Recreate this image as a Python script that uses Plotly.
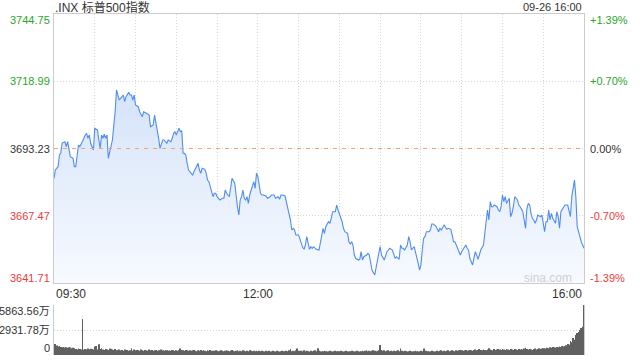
import plotly.graph_objects as go

# ---------------- data ----------------
title_text = ".INX 标普500指数"
date_text = "09-26 16:00"
watermark = "sina.com"
prev_close = 3693.23
price_ticks = [3641.71, 3667.47, 3693.23, 3718.99, 3744.75]
pct_labels = ["-1.39%", "-0.70%", "0.00%", "+0.70%", "+1.39%"]
vol_ticks = [0, 2931.78, 5863.56]
vol_labels = ["0", "2931.78万", "5863.56万"]
time_ticks = [0, 150, 390]
time_labels = ["09:30", "12:00", "16:00"]

# minutes after 09:30 and index level
minutes = [0, 1, 3, 4, 5, 6, 8, 9, 10, 11, 12, 14, 15, 16, 17, 18, 19, 21, 22, 23,
           24, 25, 26, 27, 29, 30, 32, 33, 34, 35, 36, 37, 38, 39, 40, 41, 43, 44, 45, 46,
           48, 49, 51, 52, 53, 55, 56, 57, 58, 59, 60, 62, 63, 65, 66, 68, 70, 71, 73, 74,
           75, 76, 77, 78, 80, 81,
           83, 84, 86, 87, 88, 89, 90, 92, 93, 94, 95, 96, 97, 98, 99, 101, 102, 103, 105, 106,
           107, 108, 109, 111, 112, 113, 114, 115, 116, 117, 118, 119, 120, 121, 122, 124, 125, 126, 127, 129,
           130, 131, 133, 134, 135, 136, 137, 138, 139, 140, 141, 142, 143, 144, 146, 147, 148, 149, 150, 151,
           152, 153, 154, 156, 157, 159, 160, 162,
           163, 165, 166, 167, 168, 170, 171, 172, 173, 174, 175, 176, 177, 178, 180, 181, 182, 183, 184, 185,
           186, 187, 188, 189, 190, 191, 192, 193, 195, 196, 197, 198, 199, 200, 202, 203, 204, 205, 207, 208,
           209, 210, 211, 212, 213, 214, 216, 217, 218, 219, 220, 221, 222, 224, 225, 226, 227, 228, 230, 231,
           232, 233, 234, 236, 237, 238, 239, 240, 241, 243,
           244, 245, 246, 247, 249, 250, 251, 252, 254, 255, 256, 257, 258, 260, 261, 262, 263, 265, 266, 267,
           268, 269, 270, 271, 272, 273, 274, 276, 277, 278, 279, 281, 282, 283, 284, 285, 287, 288, 289, 290,
           292, 293, 294, 295, 297, 298, 299, 300, 302, 303, 304, 305, 306, 308, 309, 310, 311, 312, 313, 314,
           316, 317, 318, 319, 320, 321, 322,
           323, 324, 326, 327, 328, 329, 330, 331, 332, 333, 334, 335, 336, 337, 338, 339, 341, 342, 343, 344,
           345, 347, 348, 349, 350, 351, 352, 353, 354, 355, 356, 358, 359, 360, 361, 362, 363, 364, 365, 366,
           367, 369, 370, 371, 372, 373, 375, 376, 377, 378, 380, 381, 382, 383, 384, 385, 386, 387, 388, 390]

prices = [3681.81, 3684.99, 3686.26, 3690.74, 3691.50, 3695.33, 3695.83, 3693.92, 3695.83, 3692.65,
          3690.09, 3689.47, 3686.26, 3686.26, 3691.39, 3694.57, 3693.92, 3695.83, 3697.13, 3698.40,
          3699.05, 3697.13, 3698.40, 3695.22, 3692.65, 3700.96, 3700.31, 3696.48, 3693.30, 3698.40,
          3697.13, 3698.67, 3697.13, 3698.40, 3689.47, 3692.00, 3696.48, 3702.23, 3707.32, 3715.64,
          3711.80, 3712.46, 3713.72, 3711.15, 3713.07, 3714.75, 3713.72, 3713.72, 3711.80, 3713.72,
          3709.89, 3709.24, 3707.32, 3705.41, 3707.32, 3706.71, 3706.06, 3701.58, 3702.23, 3706.06,
          3703.49, 3700.31, 3697.13, 3693.30, 3696.48, 3696.48,
          3695.22, 3696.48, 3695.83, 3697.13, 3699.05, 3699.66, 3698.40, 3700.96, 3699.66, 3700.05,
          3691.39, 3691.39, 3690.74, 3687.56, 3684.99, 3683.73, 3683.08, 3684.34, 3686.26, 3687.56,
          3684.99, 3683.73, 3685.64, 3685.26, 3683.73, 3681.16, 3680.51, 3678.60, 3676.07, 3674.76,
          3676.07, 3676.07, 3674.76, 3674.15, 3673.50, 3674.15, 3674.15, 3677.33, 3676.07, 3674.76,
          3679.25, 3681.81, 3679.90, 3674.15, 3670.93, 3667.75, 3673.50, 3674.76, 3677.33, 3674.15,
          3673.50, 3674.76, 3672.24, 3675.42, 3679.25, 3680.51, 3677.98, 3683.73, 3682.42, 3679.90,
          3676.07, 3675.42, 3675.42, 3675.03, 3674.15, 3674.76, 3675.42, 3675.42,
          3674.15, 3674.76, 3673.77, 3675.42, 3675.42, 3675.03, 3672.85, 3670.32, 3669.02, 3665.84,
          3662.01, 3662.66, 3662.01, 3660.09, 3660.09, 3658.83, 3656.91, 3655.38, 3654.62, 3656.26,
          3659.44, 3656.91, 3654.62, 3655.61, 3655.00, 3655.61, 3655.00, 3654.62, 3654.35, 3657.53,
          3660.09, 3662.66, 3660.74, 3663.27, 3665.19, 3664.57, 3666.49, 3669.02, 3669.02, 3671.58,
          3669.67, 3668.41, 3666.49, 3665.19, 3662.66, 3661.36, 3660.74, 3657.53, 3656.65, 3657.53,
          3656.26, 3652.43, 3651.17, 3650.52, 3650.78, 3653.70, 3650.52, 3651.78, 3652.43, 3653.08,
          3652.43, 3649.25, 3646.69, 3644.77, 3647.95, 3651.17, 3653.08, 3655.61, 3652.43, 3650.52,
          3652.43, 3653.70, 3654.35, 3655.00, 3654.35, 3653.08, 3651.17, 3651.78, 3650.78, 3656.26,
          3655.00, 3655.00, 3654.35, 3656.26, 3659.44, 3657.53, 3654.35, 3655.61, 3653.70, 3651.78,
          3649.25, 3646.69, 3648.60, 3654.35, 3658.83, 3659.44, 3661.36, 3661.36, 3662.01, 3664.31,
          3664.31, 3663.54, 3662.66, 3661.36, 3662.66, 3662.01, 3663.92, 3663.27, 3662.28, 3662.66,
          3662.28, 3660.09, 3657.53, 3657.53, 3655.00, 3653.70, 3652.43, 3653.70, 3655.61, 3656.26,
          3655.00, 3654.35, 3651.17, 3648.60, 3651.17, 3653.70, 3652.43, 3650.78, 3652.43, 3654.35,
          3656.26, 3660.74, 3665.19, 3669.67, 3665.84, 3672.85, 3670.93,
          3670.93, 3671.58, 3670.93, 3669.67, 3669.02, 3670.93, 3675.42, 3672.85, 3674.76, 3672.24,
          3673.50, 3674.15, 3667.10, 3668.41, 3670.93, 3674.76, 3673.50, 3671.58, 3670.93, 3669.67,
          3669.02, 3662.66, 3670.32, 3672.24, 3671.58, 3668.41, 3666.49, 3665.84, 3664.57, 3665.84,
          3667.75, 3667.10, 3667.75, 3664.57, 3661.36, 3665.19, 3665.19, 3669.67, 3665.84, 3668.41,
          3666.49, 3664.57, 3669.02, 3667.10, 3662.66, 3669.02, 3670.93, 3671.58, 3671.58, 3671.58,
          3667.10, 3674.76, 3677.98, 3681.16, 3674.76, 3663.27, 3661.36, 3659.44, 3657.53, 3655.04]

# per-minute volume (万)
vol_minutes = list(range(1, 391))
volumes = [
    1290, 1100, 1000, 1050, 950, 900, 950, 880, 900, 850, 920, 870, 800, 850, 780, 700, 650, 750, 700, 650,
    4220, 620, 700, 650, 750, 680, 720, 700, 640, 1000,
    1050, 650, 1250, 700, 800, 650, 600, 700, 650, 600, 750, 700, 650, 600, 700, 550, 600, 650, 550, 600,
    500, 650, 550, 600, 500, 550, 800, 500, 650, 550,
    600, 550, 500, 650, 550, 500, 600, 550, 500, 650, 550, 600, 500, 550, 600, 500, 550, 500, 650, 550,
    500, 600, 550, 500, 550, 500, 600, 550, 500, 550,
    500, 550, 750, 600, 550, 500, 600, 550, 500, 550, 500, 550, 600, 500, 450, 550, 500, 600, 500, 550,
    500, 450, 550, 500, 600, 500, 450, 500, 550, 500,
    450, 500, 550, 500, 450, 500, 550, 500, 450, 500, 600, 500, 450, 500, 550, 450, 500, 450, 550, 500,
    450, 500, 450, 550, 500, 450, 500, 450, 500, 450,
    500, 450, 500, 450, 400, 500, 450, 500, 400, 450, 500, 450, 400, 500, 450, 400, 450, 500, 450, 400,
    500, 450, 550, 700, 450, 500, 450, 550, 750, 500,
    450, 500, 450, 550, 450, 500, 450, 400, 500, 450, 500, 550, 450, 800, 500, 450, 400, 450, 500, 450,
    400, 450, 500, 450, 400, 450, 500, 450, 400, 450,
    500, 450, 400, 450, 500, 450, 400, 450, 500, 450, 400, 450, 500, 450, 400, 450, 500, 450, 500, 550,
    450, 500, 450, 500, 550, 500, 450, 500, 550, 1170,
    600, 500, 550, 450, 500, 550, 450, 500, 450, 500, 450, 500, 550, 450, 750, 500, 450, 500, 450, 400,
    450, 500, 450, 400, 450, 500, 450, 400, 450, 500,
    450, 750, 450, 500, 450, 400, 450, 500, 450, 400, 450, 500, 450, 500, 550, 450, 500, 450, 500, 550,
    450, 500, 550, 500, 450, 550, 500, 550, 600, 550,
    500, 550, 600, 500, 550, 600, 550, 500, 600, 650, 550, 600, 700, 600, 550, 650, 600, 550, 650, 800,
    650, 600, 550, 700, 600, 650, 700, 650, 600, 700,
    650, 600, 700, 650, 600, 700, 650, 600, 700, 650, 600, 700, 650, 700, 650, 750, 850, 700, 650, 700,
    650, 600, 700, 750, 650, 700, 800, 700, 750, 800,
    800, 750, 850, 800, 900, 850, 950, 900, 850, 950, 900, 1000, 950, 1050, 1000, 1050, 1150, 1290, 1200, 1640,
    1500, 1990, 1800, 2345, 2580, 2700, 2930, 3170, 3300, 5863.56,
]

# ---------------- styling ----------------
W, H = 640, 360
ML, MR, MT, MB = 54, 56, 14, 5
plot_h = H - MT - MB
price_dom = [(H - MB - 283) / plot_h, 1.0]
vol_dom = [0.0, (H - MB - 305) / plot_h]

GREEN = "#2aa52a"
RED = "#ee3b3b"
BLACK = "#333333"
GRID = "#d6d6d6"
FRAME = "#cccccc"
DOT = "1px,2px"
FONT = "Liberation Sans, Arial, Noto Sans CJK SC, sans-serif"

fig = go.Figure()
fig.add_trace(go.Scatter(
    x=minutes, y=prices, mode="lines",
    line=dict(color="#4f8cf2", width=1.1),
    fill="tozeroy",
    fillgradient=dict(type="vertical",
                      colorscale=[[0, "rgba(247,250,255,1)"], [1, "rgba(213,227,249,1)"]],
                      start=price_ticks[0], stop=max(prices)),
    xaxis="x", yaxis="y", hoverinfo="skip", showlegend=False))

fig.add_trace(go.Bar(
    x=vol_minutes, y=volumes, width=0.6,
    marker=dict(color="#606060", line=dict(width=0)),
    xaxis="x2", yaxis="y2", hoverinfo="skip", showlegend=False))

axis_common = dict(zeroline=False, ticks="", showticklabels=False)
fig.update_layout(
    width=W, height=H,
    margin=dict(l=ML, r=MR, t=MT, b=MB),
    paper_bgcolor="white", plot_bgcolor="white",
    font=dict(family=FONT, size=11, color=BLACK),
    bargap=0.3,
    xaxis=dict(domain=[0, 1], range=[0, 390], anchor="y", tick0=0, dtick=30,
               showgrid=True, gridcolor=GRID, griddash=DOT, gridwidth=1,
               showline=True, linecolor=FRAME, linewidth=1, mirror=True, **axis_common),
    yaxis=dict(domain=price_dom, range=[price_ticks[0], price_ticks[-1]], anchor="x",
               tickvals=price_ticks, showgrid=True, gridcolor=GRID, griddash=DOT,
               showline=True, linecolor=FRAME, linewidth=1, mirror=True, **axis_common),
    xaxis2=dict(domain=[0, 1], range=[0, 390], anchor="y2", showgrid=False,
                showline=False, **axis_common),
    yaxis2=dict(domain=vol_dom, range=[0, vol_ticks[-1]], anchor="x2",
                tickvals=vol_ticks, showgrid=True, gridcolor=GRID, griddash=DOT,
                showline=True, linecolor=FRAME, linewidth=1, mirror=True, **axis_common),
)

fig.add_shape(type="line", xref="x", yref="y", x0=0, x1=390, y0=prev_close, y1=prev_close,
              line=dict(color="#f2a46e", width=1, dash="4px,5px"))

ann = []
n = len(price_ticks)
for i, (v, p) in enumerate(zip(price_ticks, pct_labels)):
    col = GREEN if v > prev_close else (RED if v < prev_close else BLACK)
    shift = -6 if i == n - 1 else (5 if i == 0 else 0)
    ann.append(dict(xref="paper", yref="y", x=0, y=v, xanchor="right", yanchor="middle",
                    xshift=-2, yshift=shift, text=f"{v:.2f}", showarrow=False,
                    font=dict(size=11, color=col)))
    ann.append(dict(xref="paper", yref="y", x=1, y=v, xanchor="left", yanchor="middle",
                    xshift=4, yshift=shift, text=p, showarrow=False,
                    font=dict(size=11, color=col)))

for i, (v, t) in enumerate(zip(vol_ticks, vol_labels)):
    shift = -6 if i == len(vol_ticks) - 1 else (7 if i == 0 else 0)
    ann.append(dict(xref="paper", yref="y2", x=0, y=v, xanchor="right", yanchor="middle",
                    xshift=-2, yshift=shift, text=t, showarrow=False,
                    font=dict(size=11, color=BLACK)))

anchors = ["left", "center", "right"]
for v, t, a in zip(time_ticks, time_labels, anchors):
    ann.append(dict(xref="x", yref="paper", x=v, y=price_dom[0], xanchor=a, yanchor="top",
                    yshift=-2, text=t, showarrow=False, font=dict(size=12, color=BLACK)))

ann.append(dict(xref="paper", yref="paper", x=0, y=1, xanchor="left", yanchor="middle",
                xshift=-1, yshift=7, text=title_text, showarrow=False,
                font=dict(size=12, color=BLACK)))
ann.append(dict(xref="paper", yref="paper", x=1, y=1, xanchor="right", yanchor="middle",
                xshift=0, yshift=7, text=date_text, showarrow=False,
                font=dict(size=11, color=BLACK)))
ann.append(dict(xref="paper", yref="y", x=1, y=price_ticks[0], xanchor="right", yanchor="middle",
                xshift=-10, yshift=5, text=watermark, showarrow=False,
                font=dict(size=12, color="#d0d0d0")))

fig.update_layout(annotations=ann, hovermode=False)
fig.write_html("out.html", config={"displayModeBar": False},
               post_script="document.body.style.margin='0';document.body.style.overflow='hidden';")
